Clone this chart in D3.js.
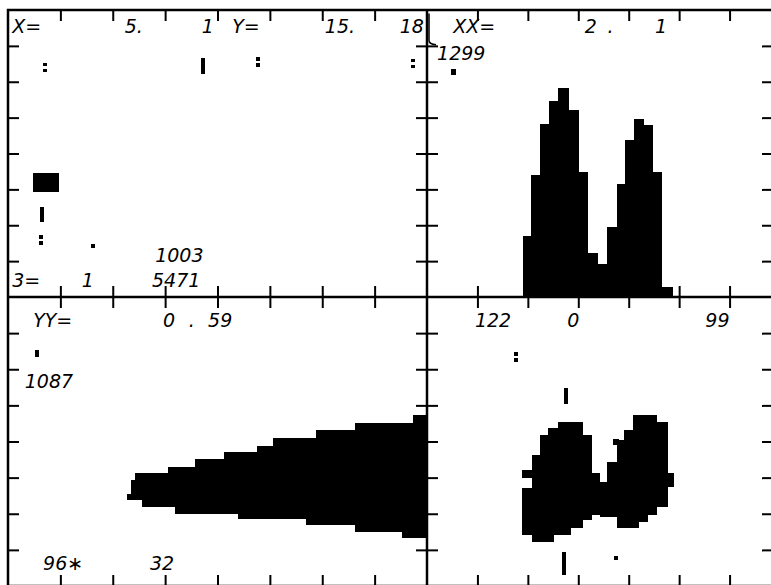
<!DOCTYPE html>
<meta charset="utf-8">
<style>
body { margin: 0; background: #fff; }
svg { display: block; }
.axis path { display: none; }
.axis line { stroke: #000; stroke-width: 2px; }
.frame { fill: none; stroke: #000; stroke-width: 2.5px; }
rect.cell, path.cell { shape-rendering: crispEdges; fill: #000; }
.lbl { font-family: "DejaVu Sans", sans-serif; font-style: italic; font-size: 19px; fill: #000; }
</style>
<body>
<script src="https://d3js.org/d3.v7.min.js"></script>
<script>

var width = 771, height = 585;

// --- data (panel units: every tick = 10) ---

// top-left: single cells
var tlColons = [[7.1, 64.1], [47.7, 65.6], [77.3, 65.1], [6.3, 15.9]];
var tlBars = [[37.2, 62.1, 66.6], [6.5, 20.9, 25.1]];
var tlDots = [[16.2, 14.3]];
var tlBlocks = [[4.8, 9.7, 29.3, 34.6]];

// top-right: histogram
var histEdges = [19.0, 20.6, 22.4, 24.2, 26.0, 28.0, 30.0, 31.9, 33.9, 35.7, 37.7, 39.3, 41.1, 42.9, 44.8, 46.6, 48.6];
var histCounts = [17.0, 34.0, 48.2, 54.6, 58.3, 52.1, 34.8, 12.3, 9.2, 19.5, 31.5, 43.8, 49.6, 47.9, 34.8, 2.8];
var trBars = [[5.2, 61.8, 63.6]];

// bottom-left: wedge (step outline)
var wedgeX = [22.7, 23.5, 24.2, 25.6, 30.5, 31.9, 35.7, 41.2, 43.9, 47.5, 50.6, 56.9, 58.8, 66.3, 75.2, 77.3, 80];
var wedgeTop = [25.5, 29.3, 31.3, 31.3, 32.9, 32.9, 35.2, 37.1, 37.1, 38.8, 41.0, 41.0, 43.2, 45.1, 45.1, 47.3, 47.3];
var wedgeBottom = [23.8, 23.8, 23.8, 21.9, 21.9, 19.9, 19.9, 19.9, 18.5, 18.5, 18.5, 16.9, 16.9, 15.0, 13.3, 13.3, 13.3];
var blBars = [[5.5, 63.4, 65.4]];

// bottom-right: two blobs as columns [x0, x1, lo, hi]
var brCols = [
  [18.8, 20.8, 14.1, 27.1], [18.8, 20.8, 29.9, 32.1], [20.8, 22.4, 12.2, 36.3],
  [22.4, 24.0, 12.2, 41.8], [24.0, 25.0, 12.2, 43.7], [25.0, 26.0, 14.1, 43.7],
  [26.0, 28.4, 14.1, 45.4], [28.4, 30.8, 16.1, 45.4], [30.8, 32.7, 18.3, 41.8],
  [32.7, 34.3, 19.7, 31.3], [34.3, 35.7, 19.1, 28.8], [35.7, 37.7, 19.1, 34.3],
  [37.7, 39.1, 16.1, 40.4], [39.1, 40.9, 16.1, 43.2], [40.9, 41.9, 16.1, 47.3],
  [41.9, 43.7, 17.7, 47.3], [43.7, 45.6, 19.7, 47.3], [45.6, 47.6, 21.9, 45.4],
  [47.6, 48.8, 27.4, 31.3], [36.9, 37.9, 39.0, 40.7]
];
var brColons = [[17.7, 63.5]];
var brBars = [[27.6, 50.5, 54.8], [27.2, 3.0, 9.4]];
var brDots = [[37.5, 7.8]];

// printed labels [text, x, y] in panel units
var tlLabels = [["X=", 0.8, 73.6], ["5.", 22.3, 73.6], ["1", 37.0, 73.6], ["Y=", 42.8, 73.6],
                ["15.", 60.5, 73.6], ["18", 74.8, 73.6], ["1003", 28.1, 9.8],
                ["5471", 27.5, 2.8], ["3=", 0.8, 2.8], ["1", 14.1, 2.8]];
var trLabels = [["XX=", 5.2, 73.6], ["2", 31.3, 73.6], [".", 35.8, 73.6], ["1", 45.2, 73.6],
                ["1299", 2.0, 66.1]];
var blLabels = [["YY=", 4.8, 71.7], ["0", 29.6, 71.7], [".", 34.5, 71.7], ["59", 38.2, 71.7],
                ["1087", 3.2, 54.8], ["96\u2217", 6.7, 4.4], ["32", 27.1, 4.4]];
var brLabels = [["122", 9.5, 71.7], ["0", 27.8, 71.7], ["99", 55.2, 71.7]];

// --- scales ---
var xL = d3.scaleLinear().domain([0, 80]).range([8, 427]);
var xR = d3.scaleLinear().domain([0, 70]).range([427, 780]);
var yT = d3.scaleLinear().domain([0, 80]).range([297, 10]);
var yB = d3.scaleLinear().domain([0, 80]).range([586, 297]);
var rightEdge = 773;

var svg = d3.select('body').append('svg')
    .attr('width', width)
    .attr('height', height);

var panels = [
  {x: xL, y: yT, r: 427},
  {x: xR, y: yT, r: rightEdge},
  {x: xL, y: yB, r: 427},
  {x: xR, y: yB, r: rightEdge}
];

// inward ticks on every side
panels.forEach(function(p) {
  var xt = d3.range(10, p.x.domain()[1], 10),
      yt = d3.range(10, 80, 10);
  svg.append('g').attr('class', 'axis')
      .attr('transform', 'translate(0,' + p.y.range()[1] + ')')
      .call(d3.axisBottom(p.x).tickValues(xt).tickSize(11).tickFormat(''));
  svg.append('g').attr('class', 'axis')
      .attr('transform', 'translate(0,' + p.y.range()[0] + ')')
      .call(d3.axisTop(p.x).tickValues(xt).tickSize(11).tickFormat(''));
  svg.append('g').attr('class', 'axis')
      .attr('transform', 'translate(' + p.x.range()[0] + ',0)')
      .call(d3.axisRight(p.y).tickValues(yt).tickSize(11).tickFormat(''));
  svg.append('g').attr('class', 'axis')
      .attr('transform', 'translate(' + p.r + ',0)')
      .call(d3.axisLeft(p.y).tickValues(yt).tickSize(11).tickFormat(''));
});

// frame + dividers
svg.append('rect').attr('class', 'frame')
    .attr('x', xL(0)).attr('y', yT(80))
    .attr('width', rightEdge - xL(0)).attr('height', yB(0) - yT(80));
svg.append('line').attr('class', 'frame')
    .attr('x1', xL(80)).attr('x2', xL(80)).attr('y1', yT(80)).attr('y2', yB(0));
svg.append('line').attr('class', 'frame')
    .attr('x1', xL(0)).attr('x2', rightEdge).attr('y1', yT(0)).attr('y2', yT(0));
// pen slip at the top of the divider
svg.append('path').attr('class', 'frame').style('stroke-width', '1.5px')
    .attr('d', 'M' + (xR(0) + 2) + ',' + yT(79) + 'V' + yT(71.5) + 'Q' + (xR(0) + 2) + ',' + yT(70.5) + ' ' + (xR(0) + 9) + ',' + yT(70.3));

// helpers for small cells
function drawColons(x, y, pts) {
  pts.forEach(function(p) {
    [-4.5, 1.5].forEach(function(off) {
      svg.append('rect').attr('class', 'cell')
          .attr('x', x(p[0]) - 2).attr('y', y(p[1]) + off)
          .attr('width', 4).attr('height', 3.5);
    });
  });
}
function drawBars(x, y, pts) {
  svg.selectAll(null).data(pts).enter().append('rect').attr('class', 'cell')
      .attr('x', function(d) { return x(d[0]) - 2.2; })
      .attr('y', function(d) { return y(d[2]); })
      .attr('width', 4.5)
      .attr('height', function(d) { return y(d[1]) - y(d[2]); });
}
function drawDots(x, y, pts) {
  svg.selectAll(null).data(pts).enter().append('rect').attr('class', 'cell')
      .attr('x', function(d) { return x(d[0]) - 2; })
      .attr('y', function(d) { return y(d[1]) - 2; })
      .attr('width', 4).attr('height', 4);
}
function drawBlocks(x, y, cols) {
  svg.selectAll(null).data(cols).enter().append('rect').attr('class', 'cell')
      .attr('x', function(d) { return x(d[0]); })
      .attr('y', function(d) { return y(d[3]); })
      .attr('width', function(d) { return x(d[1]) - x(d[0]) + 0.5; })
      .attr('height', function(d) { return y(d[2]) - y(d[3]); });
}
function drawLabels(x, y, labels) {
  svg.selectAll(null).data(labels).enter().append('text')
      .attr('class', 'lbl')
      .attr('x', function(d) { return x(d[1]); })
      .attr('y', function(d) { return y(d[2]); })
      .text(function(d) { return d[0]; });
}

// top-left
drawColons(xL, yT, tlColons);
drawBars(xL, yT, tlBars);
drawDots(xL, yT, tlDots);
drawBlocks(xL, yT, tlBlocks);
drawLabels(xL, yT, tlLabels);

// top-right histogram
var histCols = histCounts.map(function(c, i) { return [histEdges[i], histEdges[i + 1], 0, c]; });
drawBlocks(xR, yT, histCols);
drawBars(xR, yT, trBars);
drawLabels(xR, yT, trLabels);

// bottom-left wedge
var wedge = wedgeX.map(function(v, i) { return {x: v, t: wedgeTop[i], b: wedgeBottom[i]}; });
var area = d3.area()
    .curve(d3.curveStepAfter)
    .x(function(d) { return xL(d.x); })
    .y0(function(d) { return yB(d.b); })
    .y1(function(d) { return yB(d.t); });
svg.append('path').attr('class', 'cell').datum(wedge).attr('d', area);
drawBars(xL, yB, blBars);
drawLabels(xL, yB, blLabels);

// bottom-right blobs
drawBlocks(xR, yB, brCols);
drawColons(xR, yB, brColons);
drawBars(xR, yB, brBars);
drawDots(xR, yB, brDots);
drawLabels(xR, yB, brLabels);

</script>
</body>
